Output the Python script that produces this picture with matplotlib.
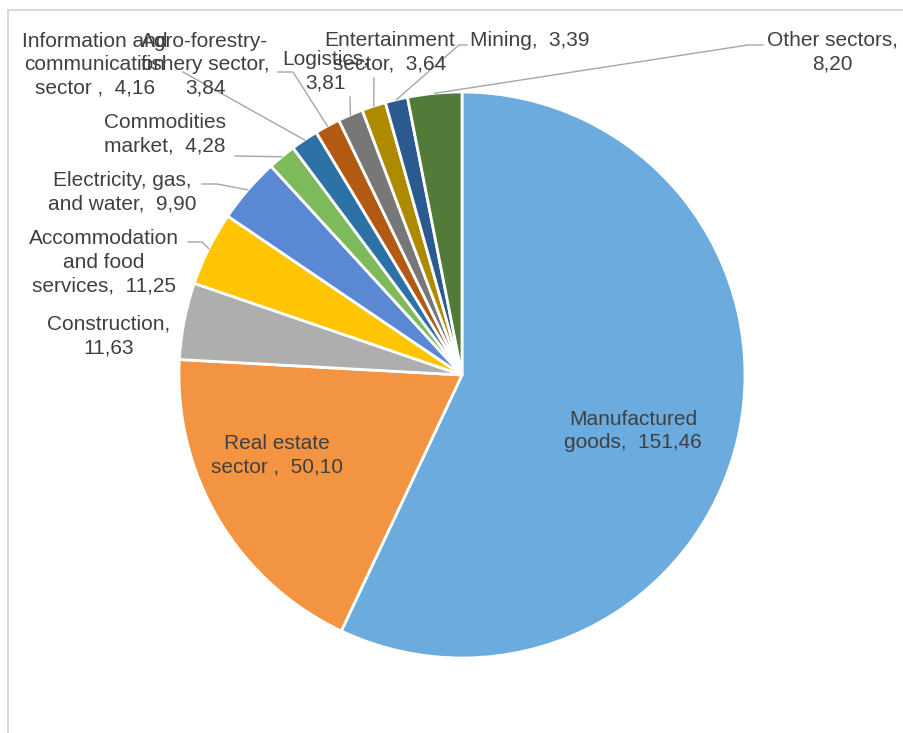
import numpy as np
import matplotlib
matplotlib.use("Agg")
import matplotlib.pyplot as plt

# sector shares (values as shown on the chart)
sectors = ["Manufactured\ngoods", "Real estate\nsector", "Construction",
           "Accommodation\nand food\nservices", "Electricity, gas,\nand water",
           "Commodities\nmarket", "Information and\ncommunication\nsector",
           "Agro-forestry-\nfishery sector", "Logistics", "Entertainment\nsector",
           "Mining", "Other sectors"]
values = [151.46, 50.10, 11.63, 11.25, 9.90, 4.28, 4.16, 3.84, 3.81, 3.64, 3.39, 8.20]
# how the name and the value are joined in each data label
joiners = [",  ", " ,  ", ",\n", ",  ", ",  ", ",  ", " ,  ", ",\n", ",\n",
           ",  ", ",  ", ",\n"]
colors = ["#6CABDD", "#F39442", "#AEAEAE", "#FFC502", "#5A88D2", "#7DBA5C",
          "#2D72A6", "#B35A12", "#777777", "#AE8A00", "#2A5A90", "#527A38"]

# label layout in pixels: label centre, optional leader start and elbow
label_xy = [(633, 431), (277, 455), (109, 336), (104, 262), (122, 192),
            (165, 134), (95, 65), (205, 65), (326, 71), (390, 52), (530, 40),
            (832, 52)]
leaders = {3: [(188, 242), (202, 242)], 4: [(202, 184), (217, 184)],
           5: [(235, 156)], 6: [(183, 72)], 7: [(278, 72), (293, 72)],
           8: [(350, 97)], 9: [(374, 78)], 10: [(467, 45), (459, 45)],
           11: [(763, 45), (748, 45)]}

W, H = 904, 733
cx, cy, R = 462, 375, 283

fig = plt.figure(figsize=(9.04, 7.33), dpi=100)
ax = fig.add_axes([0, 0, 1, 1])


def px(x, y):
    return (x - cx) / R, (cy - y) / R


ax.pie(values, colors=colors, startangle=90, counterclock=False, radius=1,
       center=(0, 0), wedgeprops=dict(edgecolor="white", linewidth=2.0),
       frame=False)
ax.set_xlim(-cx / R, (W - cx) / R)
ax.set_ylim((cy - H) / R, cy / R)
ax.set_aspect("equal")
ax.axis("off")

total = sum(values)
cum = np.cumsum([0] + values)
for i, (name, v) in enumerate(zip(sectors, values)):
    txt = name + joiners[i] + f"{v:.2f}".replace(".", ",")
    ax.text(*px(*label_xy[i]), txt, ha="center", va="center", fontsize=15,
            color="#404040", family="Liberation Sans", linespacing=1.3,
            zorder=5)
    if i in leaders:
        mid = (cum[i] + values[i] / 2) / total
        ang = np.deg2rad(90 - 360 * mid)
        pts = [px(*p) for p in leaders[i]] + [(np.cos(ang), np.sin(ang))]
        xs, ys = zip(*pts)
        ax.plot(xs, ys, color="#A6A6A6", lw=1.0, zorder=4)

# chart frame (top and left edges are visible)
ax.plot([px(8, 0)[0], px(W, 0)[0]], [px(0, 10)[1]] * 2,
        color="#D9D9D9", lw=1.5, clip_on=False)
ax.plot([px(8, 0)[0]] * 2, [px(0, 10)[1], px(0, H)[1]],
        color="#D9D9D9", lw=1.5, clip_on=False)

fig.savefig("out.png", dpi=100)
